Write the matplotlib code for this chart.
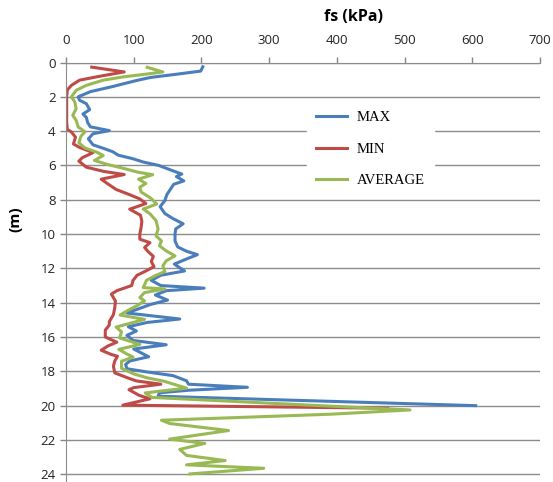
import matplotlib
matplotlib.use("Agg")
import matplotlib.pyplot as plt

# MAX series (depth m, fs kPa)
max_depth = [0.25, 0.5, 0.7, 0.87, 1.05, 1.4, 1.7, 2.0, 2.2, 2.4, 2.75, 3.0, 3.2, 3.5, 3.75,
             3.97, 4.15, 4.45, 4.8, 5.0, 5.2, 5.4, 5.6, 5.8, 6.0, 6.3, 6.5, 6.65, 6.9, 7.1,
             7.4, 7.7, 8.05, 8.4, 8.8, 9.1, 9.4, 9.7, 10.0, 10.4, 10.75, 11.0, 11.2, 11.45,
             11.75, 12.15, 12.4, 12.7, 13.0, 13.15, 13.3, 13.55, 13.85, 14.1, 14.4, 14.6,
             14.95, 15.15, 15.4, 15.65, 15.9, 16.2, 16.45, 16.7, 17.15, 17.4, 17.6, 17.85,
             18.05, 18.25, 18.55, 18.75, 18.93, 19.1, 19.25, 19.45, 20.0]
max_fs = [202, 199, 160, 125, 104, 69, 36, 18, 20, 30, 35, 25, 30, 32, 36,
          64, 40, 33, 40, 55, 69, 77, 98, 114, 137, 157, 171, 163, 174, 159,
          154, 149, 146, 139, 146, 158, 173, 162, 161, 161, 165, 178, 194, 178,
          160, 175, 140, 126, 140, 204, 148, 132, 150, 125, 104, 90,
          168, 120, 92, 104, 90, 99, 148, 100, 122, 94, 88, 90,
          122, 158, 178, 181, 268, 182, 138, 136, 605]

# MIN series
min_depth = [0.27, 0.55, 0.8, 1.03, 1.33, 1.6, 2.0, 2.5, 3.0, 3.5, 3.9, 4.05, 4.35, 4.75,
             4.95, 5.25, 5.55, 5.75, 6.1, 6.35, 6.53, 6.8, 7.08, 7.4, 7.72, 7.95, 8.22,
             8.55, 8.9, 9.25, 9.6, 10.0, 10.3, 10.5, 10.78, 11.05, 11.3, 11.6, 11.9, 12.15,
             12.4, 12.7, 13.0, 13.3, 13.5, 13.9, 14.3, 14.7, 15.1, 15.3, 15.6, 16.0, 16.3,
             16.52, 16.77, 17.02, 17.12, 17.4, 17.7, 18.09, 18.38, 18.56, 18.75, 18.95,
             19.07, 19.4, 19.6, 19.97, 20.15]
min_fs = [38, 86, 50, 20, 8, 2, 1, 1, 1, 1, 2, 8, 14, 11,
          20, 40, 24, 19, 30, 56, 86, 52, 62, 74, 95, 109, 118,
          94, 110, 112, 111, 109, 109, 124, 116, 122, 129, 126, 130, 118,
          105, 99, 97, 75, 67, 73, 72, 70, 64, 64, 58, 58, 75,
          62, 52, 67, 76, 72, 70, 72, 91, 104, 140, 100,
          93, 108, 124, 84, 475]

# AVERAGE series
avg_depth = [0.28, 0.55, 0.68, 0.84, 1.03, 1.33, 1.62, 2.0, 2.3, 2.69, 3.08, 3.37, 3.76,
             4.04, 4.3, 4.68, 4.98, 5.22, 5.42, 5.71, 5.95, 6.17, 6.39, 6.54, 6.8, 7.05,
             7.27, 7.55, 7.9, 8.25, 8.54, 8.82, 9.22, 9.7, 10.1, 10.4, 10.68, 10.98, 11.27,
             11.56, 11.85, 12.18, 12.44, 12.69, 13.12, 13.2, 13.41, 13.7, 13.9, 14.19,
             14.48, 14.72, 14.97, 15.23, 15.42, 15.7, 16.05, 16.43, 16.72, 16.97, 17.17,
             17.41, 17.82, 18.15, 18.38, 18.58, 18.98, 19.16, 19.26, 19.52, 20.0, 20.25,
             20.5, 20.85, 21.04, 21.45, 21.95, 22.2, 22.55, 22.9, 23.2, 23.45, 23.65, 23.98]
avg_fs = [120, 143, 118, 84, 55, 30, 15, 8, 13, 15, 10, 15, 18,
          28, 22, 19, 28, 45, 55, 42, 62, 85, 106, 128, 107, 118,
          109, 111, 125, 134, 114, 124, 133, 136, 133, 141, 138, 148, 161,
          148, 143, 146, 131, 119, 114, 146, 116, 109, 116, 104,
          90, 80, 116, 92, 74, 82, 79, 109, 78, 89, 99,
          82, 82, 100, 120, 145, 178, 138, 117, 127, 375, 508,
          390, 141, 153, 240, 153, 205, 168, 178, 235, 178, 292, 183]

W, H = 553, 482
fig = plt.figure(figsize=(W / 100, H / 100), dpi=100)
ax = fig.add_axes([66 / W, 0, 474 / W, 1 - 62.5 / H])

ax.plot(max_fs, max_depth, color='#4A7EBB', lw=2.2, label='MAX')
ax.plot(min_fs, min_depth, color='#BE4B48', lw=2.2, label='MIN')
ax.plot(avg_fs, avg_depth, color='#98B954', lw=2.2, label='AVERAGE')

ax.set_xlim(0, 700)
ax.set_ylim(24.45, 0)
ax.set_xticks(range(0, 701, 100))
ax.set_yticks(range(0, 25, 2))
ax.xaxis.tick_top()
ax.tick_params(axis='both', labelsize=9.5, colors='#868686', labelcolor='#222222',
               length=4, width=1)
ax.tick_params(axis='x', pad=7)
for lab in ax.get_xticklabels() + ax.get_yticklabels():
    lab.set_fontfamily('Open Sans')

ax.grid(axis='y', color='#8c8c8c', lw=1)
ax.set_axisbelow(True)
for s in ['right', 'bottom']:
    ax.spines[s].set_visible(False)
for s in ['top', 'left']:
    ax.spines[s].set_color('#8c8c8c')

fig.text(353 / W, 1 - 17 / H, 'fs (kPa)', ha='center', va='center',
         fontsize=11.5, fontweight='bold', family='Open Sans')
fig.text(15 / W, 1 - 219 / H, '(m)', ha='center', va='center', rotation=90,
         fontsize=11, fontweight='bold', family='Open Sans')

leg = ax.legend(loc='upper left', bbox_to_anchor=(300 / W, 1 - 95 / H),
                bbox_transform=fig.transFigure, prop={'family': 'Liberation Serif', 'size': 10.5},
                frameon=True, fancybox=False, edgecolor='white', framealpha=1,
                handlelength=2.1, handletextpad=0.7, labelspacing=1.25, borderpad=0.6)
for l in leg.get_lines():
    l.set_linewidth(2.2)

fig.savefig('out.png', dpi=100)
